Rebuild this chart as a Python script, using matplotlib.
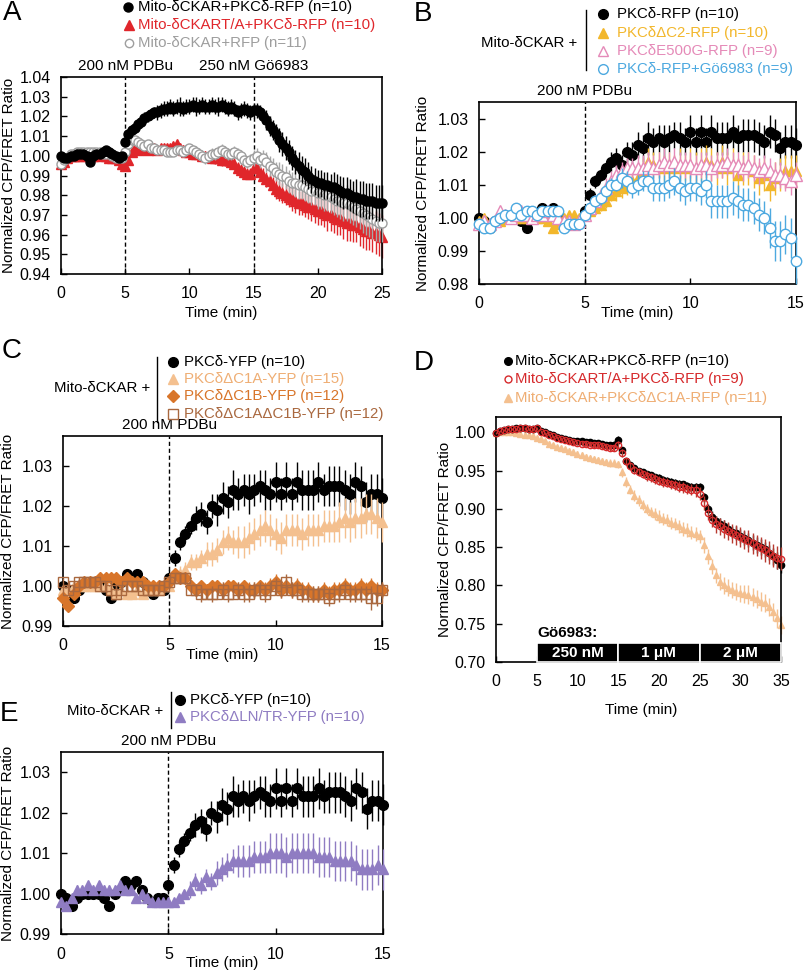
import numpy as np
import matplotlib
matplotlib.use('Agg')
import matplotlib.pyplot as plt
from matplotlib.lines import Line2D
from matplotlib.transforms import blended_transform_factory

plt.rcParams['font.family'] = ['Liberation Sans', 'DejaVu Sans']

W, H = 805, 972

# ---------------- data ----------------
# sampling times (min)
t15 = np.linspace(0, 15, 61)
t25 = np.linspace(0, 25, 101)
t35 = np.linspace(0, 35, 71)

# Panel A
a_black = [1.000, 0.999, 0.999, 1.000, 1.000, 1.001, 1.001, 1.001, 1.000, 0.997, 1.000, 1.001, 1.001, 1.002, 1.003, 1.002, 1.001, 1.000, 0.999, 1.000,
           1.007, 1.011, 1.013, 1.014, 1.016, 1.017, 1.019, 1.020, 1.021, 1.022, 1.022, 1.023, 1.024, 1.024, 1.025, 1.024, 1.025, 1.025, 1.024, 1.025,
           1.025, 1.026, 1.025, 1.025, 1.026, 1.025, 1.025, 1.026, 1.025, 1.025, 1.026, 1.025, 1.024, 1.025, 1.024, 1.022, 1.023, 1.024, 1.023, 1.022,
           1.023, 1.023, 1.022, 1.020, 1.018, 1.015, 1.013, 1.011, 1.008, 1.006, 1.004, 1.002, 0.999, 0.997, 0.995, 0.993, 0.992, 0.990, 0.988, 0.987,
           0.986, 0.986, 0.985, 0.985, 0.984, 0.984, 0.983, 0.982, 0.981, 0.981, 0.980, 0.979, 0.979, 0.978, 0.978, 0.977, 0.977, 0.977, 0.976, 0.976, 0.976]
a_black_err = [0.001, 0.001, 0.001, 0.001, 0.001, 0.001, 0.001, 0.001, 0.001, 0.001, 0.001, 0.001, 0.001, 0.001, 0.001, 0.001, 0.001, 0.001, 0.001, 0.001,
               0.002, 0.002, 0.002, 0.002, 0.003, 0.003, 0.003, 0.003, 0.003, 0.003, 0.004, 0.004, 0.004, 0.004, 0.004, 0.004, 0.004, 0.005, 0.004, 0.004,
               0.004, 0.004, 0.005, 0.004, 0.004, 0.004, 0.004, 0.004, 0.004, 0.005, 0.004, 0.004, 0.004, 0.004, 0.004, 0.004, 0.004, 0.004, 0.004, 0.004,
               0.004, 0.004, 0.004, 0.004, 0.005, 0.005, 0.005, 0.005, 0.006, 0.006, 0.006, 0.006, 0.006, 0.006, 0.007, 0.007, 0.007, 0.007, 0.007, 0.007,
               0.007, 0.007, 0.007, 0.007, 0.007, 0.008, 0.008, 0.008, 0.008, 0.008, 0.008, 0.008, 0.009, 0.009, 0.009, 0.009, 0.009, 0.009, 0.009, 0.009, 0.009]
a_red = [0.996, 0.997, 0.999, 1.000, 1.000, 1.000, 1.000, 1.001, 1.000, 1.000, 1.000, 1.001, 1.000, 1.001, 1.000, 0.999, 0.999, 0.999, 0.998, 0.996,
         0.995, 0.998, 1.002, 1.004, 1.003, 1.004, 1.004, 1.003, 1.004, 1.004, 1.003, 1.004, 1.004, 1.004, 1.004, 1.005, 1.006, 1.004, 1.003, 1.002,
         1.002, 1.001, 1.001, 1.001, 1.000, 1.000, 1.000, 0.999, 0.999, 0.999, 0.998, 0.998, 0.998, 0.997, 0.996, 0.994, 0.993, 0.992, 0.991, 0.991,
         0.994, 0.994, 0.992, 0.990, 0.988, 0.987, 0.985, 0.983, 0.982, 0.981, 0.980, 0.979, 0.978, 0.977, 0.976, 0.976, 0.975, 0.974, 0.974, 0.973,
         0.972, 0.972, 0.971, 0.970, 0.970, 0.969, 0.968, 0.968, 0.967, 0.966, 0.966, 0.965, 0.965, 0.964, 0.963, 0.962, 0.962, 0.961, 0.961, 0.960, 0.959]
a_red_err = [0.001, 0.001, 0.001, 0.001, 0.001, 0.001, 0.001, 0.001, 0.001, 0.001, 0.001, 0.001, 0.001, 0.001, 0.001, 0.001, 0.001, 0.001, 0.001, 0.001,
             0.001, 0.002, 0.002, 0.002, 0.002, 0.002, 0.002, 0.002, 0.002, 0.002, 0.002, 0.002, 0.002, 0.002, 0.002, 0.002, 0.002, 0.002, 0.002, 0.002,
             0.002, 0.002, 0.002, 0.002, 0.002, 0.002, 0.002, 0.002, 0.003, 0.003, 0.003, 0.003, 0.003, 0.003, 0.003, 0.003, 0.003, 0.003, 0.003, 0.003,
             0.003, 0.003, 0.003, 0.004, 0.004, 0.004, 0.004, 0.005, 0.005, 0.005, 0.005, 0.005, 0.006, 0.006, 0.006, 0.006, 0.006, 0.006, 0.007, 0.007,
             0.007, 0.007, 0.007, 0.008, 0.008, 0.008, 0.008, 0.008, 0.009, 0.009, 0.009, 0.009, 0.009, 0.010, 0.010, 0.010, 0.010, 0.010, 0.011, 0.011, 0.011]
a_gray = [0.996, 0.998, 0.999, 1.001, 1.001, 1.002, 1.002, 1.002, 1.002, 1.002, 1.002, 1.002, 1.002, 1.001, 1.001, 1.002, 1.000, 0.999, 0.999, 0.999,
          1.002, 1.006, 1.008, 1.008, 1.007, 1.006, 1.005, 1.006, 1.004, 1.004, 1.003, 1.003, 1.003, 1.002, 1.002, 1.002, 1.003, 1.003, 1.002, 1.003,
          1.004, 1.003, 1.002, 1.001, 1.000, 0.999, 1.000, 1.001, 1.001, 1.002, 1.003, 1.002, 1.001, 1.001, 1.002, 1.001, 1.000, 0.998, 0.997, 0.998,
          0.999, 1.000, 0.998, 0.999, 0.997, 0.995, 0.994, 0.992, 0.991, 0.990, 0.989, 0.987, 0.986, 0.986, 0.985, 0.985, 0.984, 0.983, 0.982, 0.982,
          0.981, 0.981, 0.980, 0.980, 0.979, 0.978, 0.977, 0.977, 0.976, 0.976, 0.975, 0.974, 0.973, 0.972, 0.971, 0.970, 0.969, 0.968, 0.967, 0.966, 0.966]
a_gray_err = [0.001, 0.001, 0.001, 0.001, 0.001, 0.001, 0.001, 0.001, 0.001, 0.001, 0.001, 0.001, 0.001, 0.001, 0.001, 0.001, 0.001, 0.001, 0.001, 0.001,
              0.001, 0.002, 0.002, 0.002, 0.002, 0.002, 0.002, 0.002, 0.002, 0.002, 0.002, 0.002, 0.002, 0.002, 0.002, 0.002, 0.002, 0.002, 0.002, 0.002,
              0.002, 0.002, 0.003, 0.003, 0.003, 0.003, 0.003, 0.003, 0.003, 0.003, 0.003, 0.003, 0.003, 0.003, 0.003, 0.003, 0.003, 0.003, 0.003, 0.003,
              0.004, 0.004, 0.004, 0.004, 0.005, 0.005, 0.005, 0.005, 0.006, 0.006, 0.006, 0.006, 0.006, 0.007, 0.007, 0.007, 0.007, 0.007, 0.007, 0.007,
              0.008, 0.008, 0.008, 0.008, 0.008, 0.008, 0.008, 0.009, 0.009, 0.009, 0.009, 0.009, 0.009, 0.009, 0.010, 0.010, 0.010, 0.010, 0.010, 0.010, 0.010]

# PKCδ wild type (B, C, E share this trace)
wt = [1.000, 0.999, 0.997, 0.999, 1.000, 1.000, 1.000, 1.000, 0.999, 0.997, 1.000, 1.001, 1.003, 1.002, 1.003, 1.001, 0.999, 0.998, 0.999, 0.999,
      1.002, 1.007, 1.011, 1.013, 1.015, 1.017, 1.018, 1.016, 1.020, 1.019, 1.022, 1.021, 1.024, 1.023, 1.024, 1.023, 1.024, 1.025, 1.024, 1.023,
      1.026, 1.023, 1.026, 1.023, 1.026, 1.024, 1.024, 1.024, 1.026, 1.024, 1.025, 1.025, 1.025, 1.024, 1.023, 1.026, 1.025, 1.021, 1.023, 1.023, 1.022]
wt_err = [0.001, 0.001, 0.001, 0.001, 0.001, 0.001, 0.001, 0.001, 0.001, 0.001, 0.001, 0.001, 0.001, 0.001, 0.001, 0.001, 0.001, 0.001, 0.001, 0.001,
          0.002, 0.002, 0.002, 0.002, 0.002, 0.003, 0.003, 0.003, 0.003, 0.004, 0.004, 0.004, 0.005, 0.004, 0.004, 0.005, 0.004, 0.004, 0.005, 0.004,
          0.005, 0.004, 0.005, 0.004, 0.005, 0.005, 0.005, 0.005, 0.005, 0.004, 0.005, 0.005, 0.005, 0.005, 0.005, 0.005, 0.005, 0.005, 0.005, 0.005, 0.005]

# Panel B
b_c2 = [0.999, 1.000, 0.998, 0.999, 0.999, 1.000, 1.000, 1.000, 1.000, 1.000, 1.000, 1.000, 1.000, 0.999, 0.997, 0.998, 1.000, 1.001, 1.001, 1.000,
        1.001, 1.002, 1.003, 1.004, 1.005, 1.007, 1.008, 1.009, 1.010, 1.011, 1.012, 1.014, 1.017, 1.016, 1.016, 1.015, 1.016, 1.015, 1.016, 1.015,
        1.016, 1.015, 1.016, 1.017, 1.016, 1.015, 1.017, 1.015, 1.016, 1.013, 1.015, 1.015, 1.014, 1.012, 1.013, 1.010, 1.012, 1.013, 1.014, 1.014, 1.014]
b_c2_err = [0.001, 0.001, 0.001, 0.001, 0.001, 0.001, 0.001, 0.001, 0.001, 0.001, 0.001, 0.001, 0.001, 0.001, 0.001, 0.001, 0.001, 0.001, 0.001, 0.001,
            0.001, 0.002, 0.002, 0.002, 0.002, 0.002, 0.003, 0.003, 0.003, 0.003, 0.004, 0.004, 0.004, 0.004, 0.004, 0.004, 0.004, 0.004, 0.005, 0.004,
            0.005, 0.005, 0.005, 0.005, 0.005, 0.005, 0.005, 0.005, 0.005, 0.005, 0.005, 0.005, 0.005, 0.005, 0.005, 0.005, 0.005, 0.005, 0.005, 0.005, 0.005]
b_e500g = [0.998, 0.999, 0.998, 0.999, 1.002, 1.001, 1.000, 1.001, 1.002, 1.001, 1.000, 1.001, 1.001, 1.002, 1.001, 1.000, 0.999, 0.999, 0.998, 0.999,
           1.001, 1.003, 1.005, 1.007, 1.009, 1.011, 1.013, 1.014, 1.015, 1.015, 1.015, 1.015, 1.016, 1.015, 1.016, 1.017, 1.016, 1.017, 1.016, 1.016,
           1.016, 1.015, 1.016, 1.016, 1.015, 1.016, 1.016, 1.017, 1.016, 1.016, 1.015, 1.016, 1.015, 1.014, 1.015, 1.014, 1.013, 1.013, 1.012, 1.011, 1.013]
b_e500g_err = [0.001, 0.001, 0.001, 0.001, 0.001, 0.001, 0.001, 0.001, 0.001, 0.001, 0.001, 0.001, 0.001, 0.001, 0.001, 0.001, 0.001, 0.001, 0.001, 0.001,
               0.001, 0.002, 0.002, 0.002, 0.003, 0.003, 0.003, 0.003, 0.003, 0.003, 0.004, 0.004, 0.004, 0.004, 0.004, 0.004, 0.004, 0.004, 0.004, 0.004,
               0.004, 0.004, 0.004, 0.004, 0.004, 0.004, 0.004, 0.004, 0.004, 0.004, 0.004, 0.004, 0.004, 0.004, 0.004, 0.004, 0.004, 0.004, 0.004, 0.004, 0.004]
b_go = [0.998, 0.997, 0.997, 0.999, 1.000, 1.001, 1.001, 1.003, 1.001, 1.002, 1.002, 1.001, 1.002, 1.002, 1.002, 1.002, 0.997, 0.998, 0.998, 0.998,
        1.001, 1.003, 1.005, 1.006, 1.008, 1.010, 1.010, 1.012, 1.011, 1.009, 1.010, 1.011, 1.011, 1.009, 1.009, 1.009, 1.010, 1.011, 1.009, 1.008,
        1.009, 1.009, 1.008, 1.010, 1.005, 1.005, 1.005, 1.005, 1.006, 1.005, 1.004, 1.004, 1.003, 1.001, 1.000, 0.997, 0.993, 0.993, 0.995, 0.994, 0.987]
b_go_err = [0.001, 0.001, 0.001, 0.001, 0.001, 0.001, 0.001, 0.001, 0.001, 0.001, 0.001, 0.001, 0.001, 0.001, 0.001, 0.001, 0.001, 0.001, 0.001, 0.001,
            0.001, 0.001, 0.002, 0.002, 0.002, 0.002, 0.002, 0.003, 0.003, 0.003, 0.003, 0.003, 0.003, 0.004, 0.004, 0.004, 0.004, 0.004, 0.004, 0.004,
            0.004, 0.004, 0.004, 0.004, 0.005, 0.005, 0.005, 0.005, 0.005, 0.005, 0.005, 0.005, 0.005, 0.005, 0.005, 0.006, 0.006, 0.006, 0.006, 0.006, 0.007]

# Panel C
c_c1a = [0.999, 0.999, 1.000, 1.000, 1.000, 1.000, 1.000, 1.000, 1.000, 0.999, 0.998, 0.999, 0.998, 0.998, 0.999, 0.998, 0.999, 0.999, 0.999, 1.000,
         1.000, 1.002, 1.003, 1.004, 1.006, 1.006, 1.007, 1.008, 1.008, 1.009, 1.011, 1.012, 1.011, 1.011, 1.011, 1.012, 1.013, 1.014, 1.015, 1.014,
         1.013, 1.012, 1.014, 1.014, 1.014, 1.013, 1.014, 1.014, 1.014, 1.015, 1.015, 1.015, 1.016, 1.017, 1.016, 1.017, 1.017, 1.018, 1.018, 1.017, 1.016]
c_c1a_err = [0.001, 0.001, 0.001, 0.001, 0.001, 0.001, 0.001, 0.001, 0.001, 0.001, 0.001, 0.001, 0.001, 0.001, 0.001, 0.001, 0.001, 0.001, 0.001, 0.001,
             0.001, 0.001, 0.002, 0.002, 0.002, 0.002, 0.002, 0.003, 0.003, 0.003, 0.003, 0.003, 0.003, 0.004, 0.004, 0.004, 0.004, 0.004, 0.004, 0.004,
             0.004, 0.004, 0.004, 0.004, 0.004, 0.004, 0.004, 0.004, 0.004, 0.004, 0.004, 0.004, 0.005, 0.005, 0.005, 0.005, 0.005, 0.005, 0.005, 0.005, 0.005]
c_c1b = [0.997, 0.995, 0.998, 1.000, 1.001, 1.001, 1.001, 1.002, 1.002, 1.002, 1.002, 1.001, 1.002, 1.001, 1.001, 1.001, 1.000, 1.000, 1.000, 1.000,
         1.001, 1.003, 1.002, 1.002, 1.000, 0.999, 1.000, 0.999, 1.000, 1.000, 0.999, 1.000, 1.000, 0.999, 1.000, 0.999, 0.999, 1.000, 0.999, 1.000,
         1.001, 0.999, 1.000, 0.999, 1.000, 0.999, 0.999, 0.998, 0.998, 0.999, 0.998, 0.999, 0.999, 1.000, 0.999, 0.999, 1.000, 0.999, 1.000, 0.999, 0.999]
c_c1b_err = [0.001, 0.001, 0.001, 0.001, 0.001, 0.001, 0.001, 0.001, 0.001, 0.001, 0.001, 0.001, 0.001, 0.001, 0.001, 0.001, 0.001, 0.001, 0.001, 0.001,
             0.001, 0.001, 0.001, 0.001, 0.001, 0.001, 0.001, 0.001, 0.001, 0.001, 0.002, 0.001, 0.001, 0.002, 0.001, 0.002, 0.002, 0.001, 0.002, 0.002,
             0.002, 0.002, 0.002, 0.002, 0.002, 0.002, 0.002, 0.002, 0.002, 0.002, 0.002, 0.002, 0.002, 0.002, 0.002, 0.002, 0.002, 0.002, 0.002, 0.002, 0.002]
c_c1ab = [1.001, 0.999, 1.000, 1.001, 1.001, 1.001, 1.001, 1.000, 1.000, 0.999, 0.998, 0.999, 1.000, 1.000, 1.000, 0.999, 0.999, 0.999, 0.999, 1.000,
          1.001, 1.002, 1.002, 1.002, 0.999, 0.999, 0.998, 0.998, 0.998, 0.998, 0.999, 0.998, 0.998, 0.999, 0.998, 0.998, 0.999, 0.999, 0.998, 0.999,
          1.000, 0.999, 1.001, 0.999, 0.999, 0.998, 0.998, 0.998, 0.998, 0.998, 0.997, 0.998, 0.998, 0.999, 0.998, 0.998, 0.998, 0.998, 0.997, 0.997, 0.999]
c_c1ab_err = [0.001, 0.001, 0.001, 0.001, 0.001, 0.001, 0.001, 0.001, 0.001, 0.001, 0.001, 0.001, 0.001, 0.001, 0.001, 0.001, 0.001, 0.001, 0.001, 0.001,
              0.001, 0.001, 0.001, 0.001, 0.001, 0.001, 0.002, 0.001, 0.002, 0.001, 0.002, 0.002, 0.001, 0.002, 0.002, 0.002, 0.002, 0.002, 0.002, 0.002,
              0.002, 0.002, 0.002, 0.002, 0.002, 0.002, 0.002, 0.002, 0.002, 0.002, 0.002, 0.002, 0.002, 0.002, 0.002, 0.002, 0.002, 0.002, 0.003, 0.002, 0.002]

# Panel D
d_black = [0.999, 1.002, 1.003, 1.004, 1.004, 1.005, 1.005, 1.005, 1.004, 1.004, 1.006, 1.002, 1.000, 0.998, 0.996, 0.994, 0.993, 0.991, 0.990, 0.989,
           0.988, 0.988, 0.987, 0.987, 0.986, 0.986, 0.985, 0.984, 0.983, 0.984, 0.990, 0.977, 0.962, 0.957, 0.953, 0.950, 0.948, 0.946, 0.944, 0.942,
           0.940, 0.938, 0.937, 0.935, 0.934, 0.933, 0.932, 0.930, 0.929, 0.928, 0.928, 0.915, 0.900, 0.890, 0.884, 0.880, 0.877, 0.874, 0.870, 0.868,
           0.865, 0.862, 0.859, 0.856, 0.853, 0.850, 0.847, 0.843, 0.838, 0.833, 0.827]
d_black_err = [0.001, 0.001, 0.001, 0.001, 0.001, 0.002, 0.002, 0.002, 0.002, 0.002, 0.002, 0.002, 0.002, 0.002, 0.002, 0.002, 0.003, 0.003, 0.003, 0.003,
               0.003, 0.003, 0.003, 0.003, 0.003, 0.003, 0.003, 0.003, 0.004, 0.004, 0.005, 0.004, 0.004, 0.004, 0.004, 0.004, 0.004, 0.004, 0.004, 0.004,
               0.005, 0.005, 0.005, 0.005, 0.005, 0.005, 0.005, 0.005, 0.005, 0.006, 0.006, 0.006, 0.007, 0.007, 0.007, 0.008, 0.008, 0.008, 0.008, 0.009,
               0.009, 0.009, 0.009, 0.010, 0.010, 0.010, 0.010, 0.010, 0.011, 0.011, 0.011]
d_red = [0.999, 1.002, 1.003, 1.004, 1.004, 1.004, 1.005, 1.005, 1.004, 1.004, 1.005, 1.001, 0.999, 0.997, 0.995, 0.993, 0.991, 0.990, 0.988, 0.987,
         0.986, 0.985, 0.985, 0.984, 0.983, 0.983, 0.982, 0.981, 0.980, 0.980, 0.983, 0.973, 0.962, 0.956, 0.951, 0.948, 0.945, 0.943, 0.941, 0.939,
         0.937, 0.935, 0.934, 0.932, 0.931, 0.929, 0.928, 0.926, 0.925, 0.924, 0.920, 0.908, 0.895, 0.886, 0.880, 0.877, 0.874, 0.871, 0.868, 0.866,
         0.863, 0.860, 0.858, 0.855, 0.852, 0.849, 0.846, 0.843, 0.839, 0.836, 0.835]
d_red_err = [0.001, 0.001, 0.001, 0.001, 0.001, 0.002, 0.002, 0.002, 0.002, 0.002, 0.002, 0.002, 0.002, 0.002, 0.002, 0.002, 0.003, 0.003, 0.003, 0.003,
             0.003, 0.003, 0.003, 0.003, 0.003, 0.004, 0.004, 0.004, 0.004, 0.004, 0.005, 0.005, 0.005, 0.005, 0.005, 0.005, 0.005, 0.006, 0.006, 0.006,
             0.006, 0.006, 0.006, 0.006, 0.007, 0.007, 0.007, 0.007, 0.007, 0.008, 0.008, 0.009, 0.010, 0.010, 0.011, 0.011, 0.012, 0.012, 0.012, 0.013,
             0.013, 0.013, 0.014, 0.014, 0.014, 0.014, 0.015, 0.015, 0.015, 0.015, 0.015]
d_c1a = [0.999, 1.000, 1.001, 1.001, 1.000, 0.999, 0.998, 0.997, 0.996, 0.995, 0.993, 0.991, 0.988, 0.985, 0.983, 0.981, 0.980, 0.978, 0.976, 0.974,
         0.972, 0.970, 0.968, 0.966, 0.965, 0.964, 0.962, 0.961, 0.960, 0.960, 0.958, 0.948, 0.935, 0.925, 0.917, 0.911, 0.905, 0.900, 0.896, 0.893,
         0.890, 0.887, 0.885, 0.882, 0.880, 0.877, 0.874, 0.872, 0.869, 0.867, 0.864, 0.853, 0.838, 0.825, 0.813, 0.805, 0.800, 0.797, 0.794, 0.792,
         0.790, 0.789, 0.788, 0.785, 0.782, 0.779, 0.777, 0.772, 0.765, 0.757, 0.748]
d_c1a_err = [0.001, 0.001, 0.001, 0.002, 0.002, 0.002, 0.002, 0.002, 0.002, 0.003, 0.003, 0.003, 0.003, 0.003, 0.003, 0.003, 0.003, 0.003, 0.004, 0.004,
             0.004, 0.004, 0.004, 0.004, 0.004, 0.004, 0.004, 0.004, 0.005, 0.005, 0.005, 0.006, 0.006, 0.006, 0.007, 0.007, 0.007, 0.007, 0.007, 0.008,
             0.008, 0.008, 0.008, 0.008, 0.008, 0.008, 0.009, 0.009, 0.009, 0.009, 0.009, 0.010, 0.010, 0.010, 0.010, 0.011, 0.011, 0.011, 0.011, 0.011,
             0.011, 0.012, 0.012, 0.012, 0.012, 0.012, 0.012, 0.012, 0.012, 0.012, 0.012]

# Panel E
e_lntr = [0.998, 0.997, 0.999, 1.001, 1.001, 1.002, 1.001, 1.002, 1.001, 1.001, 1.001, 1.002, 1.001, 1.001, 0.999, 1.000, 0.999, 0.998, 0.998, 0.998,
          0.998, 0.998, 0.999, 1.000, 1.001, 1.003, 1.002, 1.004, 1.003, 1.005, 1.006, 1.007, 1.008, 1.008, 1.008, 1.008, 1.009, 1.009, 1.009, 1.010,
          1.010, 1.010, 1.009, 1.010, 1.010, 1.010, 1.010, 1.010, 1.009, 1.009, 1.009, 1.008, 1.008, 1.008, 1.008, 1.007, 1.006, 1.006, 1.006, 1.007, 1.006]
e_lntr_err = [0.001, 0.001, 0.001, 0.001, 0.001, 0.001, 0.001, 0.001, 0.001, 0.001, 0.001, 0.001, 0.001, 0.001, 0.001, 0.001, 0.001, 0.001, 0.001, 0.001,
              0.001, 0.001, 0.001, 0.001, 0.002, 0.002, 0.002, 0.002, 0.002, 0.003, 0.003, 0.003, 0.003, 0.004, 0.004, 0.004, 0.004, 0.004, 0.004, 0.005,
              0.005, 0.005, 0.005, 0.005, 0.005, 0.005, 0.005, 0.005, 0.005, 0.005, 0.005, 0.005, 0.005, 0.005, 0.005, 0.005, 0.005, 0.005, 0.005, 0.005, 0.005]

gobars = ['250 nM', '1 μM', '2 μM']
gobar_edges = [5, 15, 25, 35]

# ---------------- figure ----------------
fig = plt.figure(figsize=(W / 100, H / 100), dpi=100)

LEG = 10.8   # legend text size


def box(l, t, r, b):
    # pixel box -> figure fraction
    return [l / W, 1 - b / H, (r - l) / W, (b - t) / H]


def setup(ax, xlim, ylim, xt, yt, yfmt, xl, yl):
    ax.set_xlim(*xlim)
    ax.set_ylim(*ylim)
    ax.set_xticks(xt)
    ax.set_yticks(yt)
    ax.set_yticklabels([yfmt % v for v in yt])
    ax.tick_params(direction='in', length=4, width=1, labelsize=11.5,
                   top=False, right=False)
    ax.tick_params(axis='x', pad=9)
    ax.tick_params(axis='y', pad=7.5)
    for s in ax.spines.values():
        s.set_linewidth(1.2)
    ax.set_xlabel('Time (min)', fontsize=11, va='center')
    ax.xaxis.set_label_coords(*xl)
    ax.set_ylabel('Normalized CFP/FRET Ratio', fontsize=11, va='center')
    ax.yaxis.set_label_coords(*yl)


def series(ax, t, y, e, marker, color, ms, mfc=None, ecolor=None, mew=1.0, z=2):
    c = ax.errorbar(t, y, yerr=e, fmt=marker, color=color, ms=ms,
                    mfc=color if mfc is None else mfc, mec=color, mew=mew,
                    ecolor=color if ecolor is None else ecolor,
                    elinewidth=1, capsize=0, zorder=z)
    for art in c.get_children():
        art.set_clip_on(False)


def drug(ax, x, label):
    ax.axvline(x, color='black', lw=1, ls=(0, (3, 2)), zorder=1)
    tr = blended_transform_factory(ax.transData, ax.transAxes)
    ax.text(x, 1.02, label, transform=tr, ha='center', va='bottom', fontsize=11)


def legend_row(mx, tx, y, marker, color, ms, label, mfc=None, tcolor=None):
    fig.add_artist(Line2D([mx / W], [1 - y / H], transform=fig.transFigure,
                          marker=marker, ms=ms, color=color,
                          mfc=color if mfc is None else mfc, mec=color, mew=1, ls='none'))
    fig.text(tx / W, 1 - y / H, label, va='center', ha='left', fontsize=LEG,
             color=color if tcolor is None else tcolor)


def bracket(rx, yc, lx, y0, y1):
    fig.text(rx / W, 1 - yc / H, 'Mito-δCKAR +', ha='right', va='center', fontsize=LEG)
    fig.add_artist(Line2D([lx / W, lx / W], [1 - y0 / H, 1 - y1 / H],
                          transform=fig.transFigure, color='black', lw=1))


def letter(x, y, s):
    fig.text(x / W, 1 - y / H, s, fontsize=20, ha='left', va='top')


RED = '#E0262B'
GRAY = '#9E9E9E'
GOLD = '#F2B72C'
PINK = '#E58AB8'
BLUE = '#4DA9E0'
LIGHT = '#F4C08F'
ORANGE = '#D8752A'
BROWN = '#A9683F'
PURPLE = '#8F7CC2'
DRED = '#D62A2C'

# ---- A ----
axA = fig.add_axes(box(61, 77, 382, 274))
series(axA, t25, a_red, a_red_err, '^', RED, 7, z=2)
series(axA, t25, a_gray, a_gray_err, 'o', GRAY, 6.5, mfc='white', ecolor='#A8A8A8', z=3)
series(axA, t25, a_black, a_black_err, 'o', 'black', 6.5, z=4)
drug(axA, 5, '200 nM PDBu')
drug(axA, 15, '250 nM Gö6983')
setup(axA, (0, 25), (0.94, 1.04), [0, 5, 10, 15, 20, 25],
      [0.94, 0.95, 0.96, 0.97, 0.98, 0.99, 1.00, 1.01, 1.02, 1.03, 1.04], '%.2f',
      (0.498, -0.198), (-0.162, 0.5))
letter(3, 0, 'A')
legend_row(128, 138, 7, 'o', 'black', 6.5, 'Mito-δCKAR+PKCδ-RFP (n=10)')
legend_row(129, 138, 25, '^', RED, 6.5, 'Mito-δCKART/A+PKCδ-RFP (n=10)')
legend_row(129, 138, 43, 'o', GRAY, 6, 'Mito-δCKAR+RFP (n=11)', mfc='white')

# ---- B ----
axB = fig.add_axes(box(479, 102, 796, 284))
series(axB, t15, wt, wt_err, 'o', 'black', 7, z=2)
series(axB, t15, b_c2, b_c2_err, '^', GOLD, 7, z=3)
series(axB, t15, b_e500g, b_e500g_err, '^', PINK, 8, mfc='white', z=4)
series(axB, t15, b_go, b_go_err, 'o', BLUE, 7.5, mfc='white', z=5)
drug(axB, 5, '200 nM PDBu')
setup(axB, (0, 15), (0.98, 1.035), [0, 5, 10, 15],
      [0.98, 0.99, 1.00, 1.01, 1.02, 1.03], '%.2f',
      (0.498, -0.16), (-0.177, 0.5))
letter(414, 1, 'B')
bracket(577, 43, 586, 10, 70)
legend_row(603, 617, 14, 'o', 'black', 7, 'PKCδ-RFP (n=10)')
legend_row(603, 617, 33, '^', GOLD, 7, 'PKCδΔC2-RFP (n=10)')
legend_row(603, 617, 51, '^', PINK, 7.5, 'PKCδE500G-RFP (n=9)', mfc='white')
legend_row(603, 617, 69, 'o', BLUE, 7, 'PKCδ-RFP+Gö6983 (n=9)', mfc='white')

# ---- C ----
axC = fig.add_axes(box(63, 436, 382, 626))
series(axC, t15, wt, wt_err, 'o', 'black', 7, z=2)
series(axC, t15, c_c1a, c_c1a_err, '^', LIGHT, 7, z=3)
series(axC, t15, c_c1b, c_c1b_err, 'D', ORANGE, 6, z=4)
series(axC, t15, c_c1ab, c_c1ab_err, 's', BROWN, 6.5, mfc='none', z=5)
drug(axC, 5, '200 nM PDBu')
setup(axC, (0, 15), (0.99, 1.0375), [0, 5, 10, 15],
      [0.99, 1.00, 1.01, 1.02, 1.03], '%.2f',
      (0.50, -0.152), (-0.172, 0.5))
letter(2, 338, 'C')
bracket(150, 388, 157, 357, 422)
legend_row(173, 184, 362, 'o', 'black', 7, 'PKCδ-YFP (n=10)')
legend_row(173, 184, 379, '^', LIGHT, 7, 'PKCδΔC1A-YFP (n=15)', tcolor='#EFAE74')
legend_row(173, 184, 396, 'D', ORANGE, 6, 'PKCδΔC1B-YFP (n=12)')
legend_row(173, 184, 414, 's', BROWN, 6.5, 'PKCδΔC1AΔC1B-YFP (n=12)', mfc='white')

# ---- D ----
axD = fig.add_axes(box(496, 417, 781, 662))
series(axD, t35, d_c1a, d_c1a_err, '^', LIGHT, 4.5, z=2)
series(axD, t35, d_black, d_black_err, 'o', 'black', 4.5, z=3)
series(axD, t35, d_red, d_red_err, 'o', DRED, 4.5, mfc='none', ecolor='#B83A30', z=4)
setup(axD, (0, 35), (0.70, 1.02), [0, 5, 10, 15, 20, 25, 30, 35],
      [0.70, 0.75, 0.80, 0.85, 0.90, 0.95, 1.00], '%.2f',
      (0.509, -0.195), (-0.179, 0.5))
for i, lab in enumerate(gobars):
    x0, x1 = gobar_edges[i], gobar_edges[i + 1]
    axD.bar(x0, 0.0245, width=x1 - x0, bottom=0.70, align='edge', color='black',
            edgecolor='white', linewidth=1.2, zorder=6, clip_on=False)
    axD.text((x0 + x1) / 2, 0.7123, lab, ha='center', va='center', color='white',
             fontsize=11, fontweight='bold', zorder=7)
axD.text(5.1, 0.7376, 'Gö6983:', ha='left', va='center', fontsize=11, fontweight='bold')
letter(414, 350, 'D')
legend_row(508, 515, 361, 'o', 'black', 5.5, 'Mito-δCKAR+PKCδ-RFP (n=10)')
legend_row(508, 515, 379, 'o', DRED, 5, 'Mito-δCKART/A+PKCδ-RFP (n=9)', mfc='white')
legend_row(508, 515, 398, '^', LIGHT, 5.5, 'Mito-δCKAR+PKCδΔC1A-RFP (n=11)', tcolor='#EFAE74')

# ---- E ----
axE = fig.add_axes(box(61, 752, 383, 934))
series(axE, t15, wt, wt_err, 'o', 'black', 7, z=2)
series(axE, t15, e_lntr, e_lntr_err, '^', PURPLE, 7, z=3)
drug(axE, 5, '200 nM PDBu')
setup(axE, (0, 15), (0.99, 1.035), [0, 5, 10, 15],
      [0.99, 1.00, 1.01, 1.02, 1.03], '%.2f',
      (0.50, -0.16), (-0.165, 0.5))
letter(0, 701, 'E')
bracket(163, 711, 171, 692, 728)
legend_row(180, 190, 700, 'o', 'black', 7, 'PKCδ-YFP (n=10)')
legend_row(180, 190, 717, '^', PURPLE, 7, 'PKCδΔLN/TR-YFP (n=10)')

fig.savefig('out.png', dpi=100)
